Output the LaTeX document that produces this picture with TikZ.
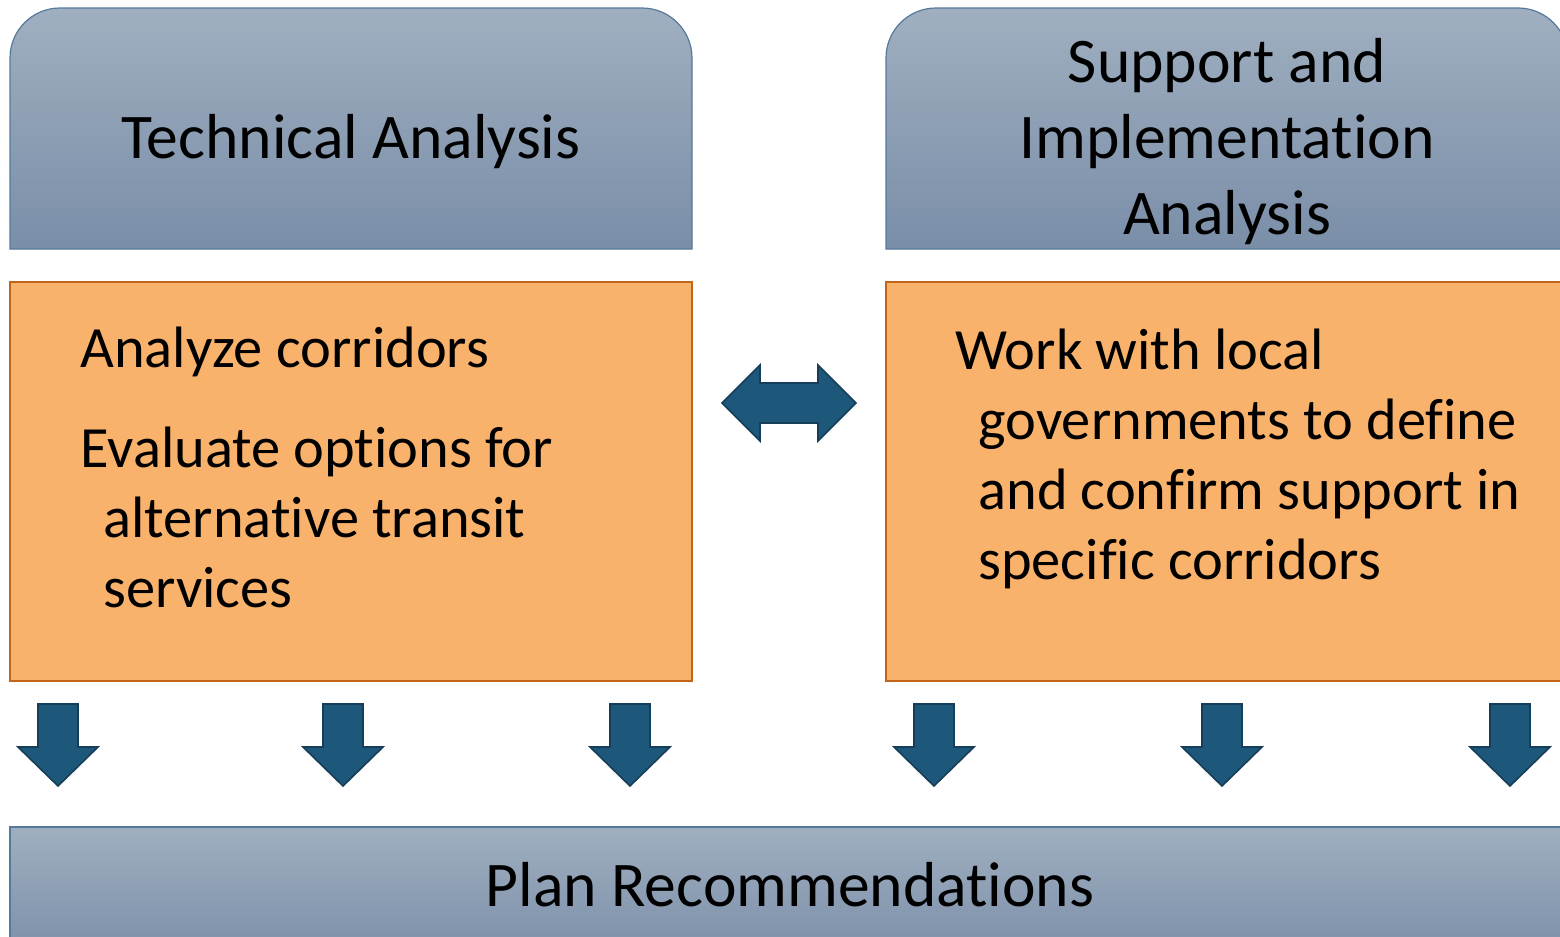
\documentclass[tikz,border=0pt]{standalone}
\usepackage{fontspec}
\setmainfont{Carlito}[Ligatures=NoCommon]

\definecolor{headtop}{HTML}{A0AFC0}
\definecolor{headbot}{HTML}{7A8EA8}
\definecolor{headline}{HTML}{557A9C}
\definecolor{taskfill}{HTML}{F9B26B}
\definecolor{taskline}{HTML}{C2651A}
\definecolor{arrowfill}{HTML}{1D5779}
\definecolor{arrowline}{HTML}{173E58}

\tikzset{
  header/.style={draw=headline, line width=0.6pt, top color=headtop, bottom color=headbot},
  taskbox/.style={draw=taskline, line width=1pt, fill=taskfill},
  blockarrow/.style={draw=arrowline, line width=0.8pt, fill=arrowfill, line join=miter},
  headtext/.style={font=\fontsize{31.8}{38}\selectfont, align=center, inner sep=0pt, anchor=base},
  tasktext/.style={font=\fontsize{29.2}{35}\selectfont, align=left, inner sep=0pt, anchor=base west}
}

\begin{document}
\begin{tikzpicture}[x=0.5pt, y=-0.5pt]
        \useasboundingbox (0,0) rectangle (1560,937);

        % headers
        \draw [header] (10,249) -- (10,58) arc[start angle=180, end angle=270, radius=50]
            -- (642,8) arc[start angle=270, end angle=360, radius=50] -- (692,249) -- cycle;
        \draw [header] (886,249) -- (886,58) arc[start angle=180, end angle=270, radius=50]
            -- (1518,8) arc[start angle=270, end angle=360, radius=50] -- (1568,249) -- cycle;

        % task boxes
        \draw [taskbox] (10,282) rectangle (692,681);
        \draw [taskbox] (886,282) rectangle (1568,681);

        % bottom bar
        \draw [header] (10,827) rectangle (1570,960);

        % multi-line nodes sit on their last baseline
        \node [headtext] (techhead) at (351,158) {Technical Analysis};
        \node [headtext] (supphead) at (1227,234) {Support and\\Implementation\\Analysis};

        \node [tasktext] (corridors) at (80,367) {Analyze corridors};
        \node [tasktext] (options) at (80,607)
            {Evaluate options for\\\hspace*{11.5pt}alternative transit\\\hspace*{11.5pt}services};
        \node [tasktext] (localgov) at (955,579)
            {Work with local\\\hspace*{11.5pt}governments to define\\\hspace*{11.5pt}and confirm support in\\\hspace*{11.5pt}specific corridors};

        \node [headtext] (planhead) at (790,906) {Plan Recommendations};

        % arrows
        \draw [blockarrow] (722,403) -- (760,365) -- (760,383) -- (818,383) -- (818,365)
            -- (856,403) -- (818,441) -- (818,423) -- (760,423) -- (760,441) -- cycle;
        \foreach \x in {58,343,630,934,1222,1510}
            \draw [blockarrow] (\x-20,704) -- (\x+20,704) -- (\x+20,747) -- (\x+40,747)
                -- (\x,786) -- (\x-40,747) -- (\x-20,747) -- cycle;
\end{tikzpicture}
\end{document}
